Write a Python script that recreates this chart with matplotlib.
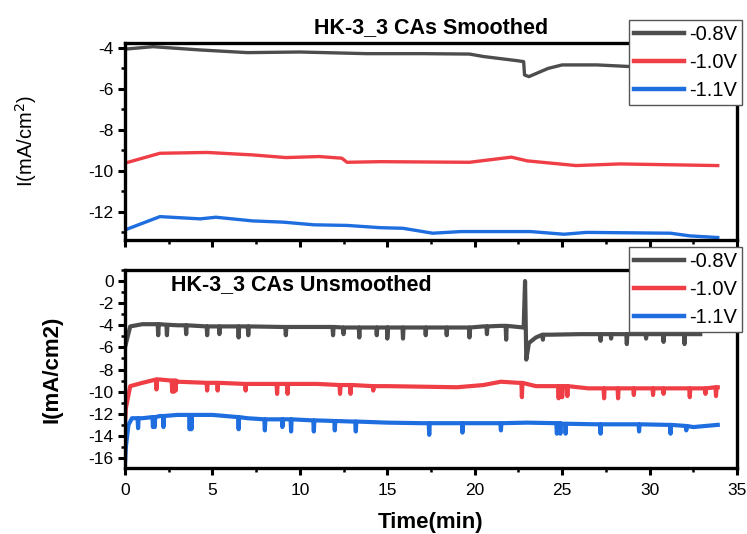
import matplotlib
matplotlib.use("Agg")
import matplotlib.pyplot as plt
from matplotlib.ticker import MultipleLocator

plt.rcParams['font.family'] = ['Liberation Sans', 'DejaVu Sans']
plt.rcParams['axes.unicode_minus'] = False

labels = ['-0.8V', '-1.0V', '-1.1V']
colors = ['#4d4d4d', '#ef3e46', '#1f6ee0']

# smoothed curves (time in min, current in mA/cm2)
sm_gray_t = [0, 1.6, 4.3, 7, 10, 13.8, 17, 19.7, 20.5, 22.4, 22.8, 22.85, 23.1, 24.2, 25.0, 27, 28.9, 31, 33]
sm_gray_v = [-4.06, -3.94, -4.1, -4.23, -4.2, -4.28, -4.28, -4.3, -4.42, -4.62, -4.67, -5.32, -5.4, -5.0,
             -4.83, -4.83, -4.91, -4.93, -4.95]
sm_red_t = [0, 2.0, 4.7, 7.3, 9.2, 11.1, 12.4, 12.7, 14.6, 19.7, 22.1, 23.0, 25.8, 28.3, 33.9]
sm_red_v = [-9.62, -9.14, -9.1, -9.22, -9.35, -9.3, -9.38, -9.58, -9.55, -9.58, -9.33, -9.51, -9.74, -9.66, -9.74]
sm_blue_t = [0, 2.0, 4.3, 5.2, 7.3, 9.05, 10.8, 12.7, 14.6, 15.9, 17.6, 19.2, 23.2, 25.1, 26.4, 31.2, 32.3, 33.9]
sm_blue_v = [-12.88, -12.23, -12.34, -12.26, -12.44, -12.5, -12.63, -12.66, -12.77, -12.8, -13.04, -12.96,
             -12.96, -13.09, -13.0, -13.04, -13.17, -13.25]

# unsmoothed: baseline points + spikes (time, level, dip)
raw_gray_t = [0, 0.3, 1, 2, 3, 5, 7, 9, 11, 13, 15, 17, 19, 20.5, 21.5, 22.8, 22.88, 22.95, 23.1, 23.5, 24.3,
              26, 28, 30, 32.9]
raw_gray_v = [-6.0, -4.1, -3.9, -3.9, -4.0, -4.1, -4.1, -4.15, -4.15, -4.2, -4.2, -4.2, -4.2, -4.1, -4.05,
              -4.2, 0.0, -7.1, -5.6, -5.1, -4.85, -4.8, -4.8, -4.8, -4.8]
raw_gray_spikes = [(1.9, -3.9, -4.9), (2.4, -3.95, -4.9), (3.5, -4.0, -4.8), (4.7, -4.1, -4.9),
                   (5.4, -4.1, -4.8), (6.5, -4.1, -5.1), (7.05, -4.1, -4.9), (9.2, -4.15, -4.9),
                   (11.9, -4.15, -4.9), (12.5, -4.2, -4.8), (13.4, -4.2, -5.1), (14.4, -4.2, -4.9),
                   (15.0, -4.2, -5.2), (15.9, -4.2, -5.2), (17.2, -4.2, -4.9), (18.4, -4.2, -4.9),
                   (19.7, -4.2, -5.1), (20.7, -4.1, -4.8), (21.8, -4.05, -5.3), (23.9, -4.85, -5.3),
                   (27.2, -4.8, -5.4), (27.8, -4.8, -5.2), (28.7, -4.8, -5.7), (29.8, -4.8, -5.2),
                   (30.8, -4.8, -5.5), (32.0, -4.8, -5.7)]

raw_red_t = [0, 0.05, 0.3, 1, 2, 3, 5, 7, 9, 11, 13, 15, 17, 19, 20.5, 21.5, 22.5, 23.5, 25, 26.5, 28, 30,
             32, 33.9]
raw_red_v = [-13.0, -11.5, -9.5, -9.2, -8.9, -9.1, -9.2, -9.3, -9.3, -9.3, -9.4, -9.5, -9.55, -9.6, -9.4,
             -9.1, -9.2, -9.5, -9.5, -9.7, -9.7, -9.7, -9.7, -9.6]
raw_red_spikes = [(1.8, -8.9, -9.8), (2.7, -9.0, -10.0), (2.8, -9.0, -10.0), (2.9, -9.0, -9.9),
                  (4.7, -9.2, -9.9), (5.3, -9.2, -9.9), (6.9, -9.3, -9.9), (8.7, -9.3, -10.2),
                  (9.3, -9.3, -10.2), (12.3, -9.4, -10.2), (12.9, -9.4, -10.2), (14.2, -9.5, -9.9),
                  (22.7, -9.2, -10.5), (24.8, -9.5, -10.6), (25.0, -9.5, -10.5), (25.3, -9.5, -10.4),
                  (27.4, -9.7, -10.6), (28.2, -9.7, -10.6), (29.1, -9.7, -10.3), (30.2, -9.7, -10.3),
                  (30.8, -9.7, -10.2), (32.3, -9.7, -10.5), (33.2, -9.7, -10.2), (33.8, -9.6, -10.4)]

raw_blue_t = [0, 0.05, 0.2, 0.4, 1, 2, 3, 5, 7, 9, 11, 13, 15, 17, 19, 21, 23, 25, 27, 29, 31, 32.5, 33.9]
raw_blue_v = [-16.5, -15.0, -13.0, -12.4, -12.4, -12.2, -12.1, -12.1, -12.4, -12.5, -12.6, -12.7, -12.8,
              -12.85, -12.85, -12.85, -12.8, -12.9, -12.95, -12.95, -13.0, -13.2, -13.0]
raw_blue_spikes = [(0.75, -12.4, -13.3), (1.6, -12.3, -13.2), (1.7, -12.3, -13.2), (2.2, -12.2, -13.2),
                   (3.7, -12.1, -13.4), (3.8, -12.1, -13.4), (6.5, -12.3, -13.4), (8.0, -12.5, -13.5),
                   (9.0, -12.5, -13.2), (9.5, -12.5, -13.6), (10.8, -12.6, -13.6), (12.0, -12.65, -13.5),
                   (13.2, -12.7, -13.6), (17.4, -12.85, -13.9), (19.3, -12.85, -13.7), (21.5, -12.85, -13.5),
                   (24.7, -12.85, -13.8), (24.9, -12.85, -13.8), (25.2, -12.9, -13.8), (27.2, -12.95, -13.8),
                   (29.4, -12.95, -13.6), (31.2, -13.0, -13.8), (32.1, -13.1, -13.5)]


def with_spikes(t, v, spikes):
    pts = list(zip(t, v))
    for st, lvl, low in spikes:
        pts += [(st - 0.03, lvl), (st, low), (st + 0.03, lvl)]
    pts.sort(key=lambda p: p[0])
    return [p[0] for p in pts], [p[1] for p in pts]


def style_axes(ax):
    for s in ax.spines.values():
        s.set_linewidth(2.4)
    ax.tick_params(which='major', length=5, width=2.2, labelsize=12.5, direction='out', pad=3)
    ax.tick_params(which='minor', length=3, width=1.8, direction='out')
    ax.xaxis.set_major_locator(MultipleLocator(5))
    ax.xaxis.set_minor_locator(MultipleLocator(2.5))
    ax.yaxis.set_major_locator(MultipleLocator(2))
    ax.yaxis.set_minor_locator(MultipleLocator(1))
    ax.set_xlim(0, 35)


def add_legend(ax, y_top):
    leg = ax.legend(loc='upper right', bbox_to_anchor=(0.9933, y_top), bbox_transform=fig.transFigure,
                    fontsize=14.5, frameon=True, fancybox=False, edgecolor='#555555', framealpha=1,
                    handlelength=2.5, handletextpad=0.25, borderpad=0.25, labelspacing=0.45,
                    borderaxespad=0)
    leg.get_frame().set_linewidth(1.0)
    for h in leg.get_lines():
        h.set_linewidth(3.2)


fig = plt.figure(figsize=(7.47, 5.34), dpi=100)
ax1 = fig.add_axes([0.1673, 0.5506, 0.8193, 0.3689])
ax2 = fig.add_axes([0.1673, 0.1236, 0.8193, 0.3708])

sm = [(sm_gray_t, sm_gray_v), (sm_red_t, sm_red_v), (sm_blue_t, sm_blue_v)]
for (t, v), c, lab in zip(sm, colors, labels):
    ax1.plot(t, v, color=c, lw=2.4, label=lab)
style_axes(ax1)
ax1.set_ylim(-13.37, -3.76)
ax1.tick_params(axis='x', labelbottom=False)
ax1.set_ylabel('I(mA/cm$^2$)', fontsize=14.5, labelpad=36)
ax1.set_title('HK-3_3 CAs Smoothed', fontsize=15.5, fontweight='bold', pad=7)
add_legend(ax1, 0.962)

raw = [(raw_gray_t, raw_gray_v, raw_gray_spikes), (raw_red_t, raw_red_v, raw_red_spikes),
       (raw_blue_t, raw_blue_v, raw_blue_spikes)]
for (t, v, sp), c, lab in zip(raw, colors, labels):
    tt, vv = with_spikes(t, v, sp)
    ax2.plot(tt, vv, color=c, lw=3.0, label=lab)
style_axes(ax2)
ax2.tick_params(axis='x', which='major', pad=6)
ax2.set_ylim(-16.9, 1.0)
ax2.set_ylabel('I(mA/cm2)', fontsize=16, fontweight='bold', labelpad=19)
ax2.set_xlabel('Time(min)', fontsize=16, fontweight='bold', labelpad=10)
ax2.text(0.075, 0.98, 'HK-3_3 CAs Unsmoothed', transform=ax2.transAxes, fontsize=15.5,
         fontweight='bold', va='top', ha='left')
add_legend(ax2, 0.5376)

fig.savefig('out.png', dpi=100)
